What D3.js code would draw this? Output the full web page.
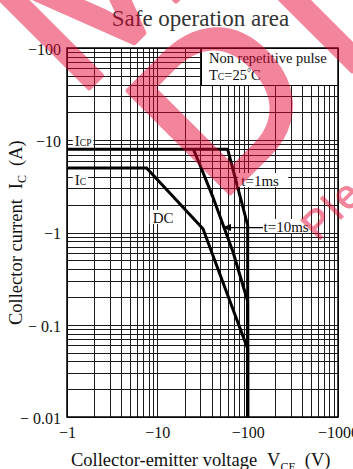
<!DOCTYPE html>
<html>
<head>
<meta charset="utf-8">
<script src="https://cdn.jsdelivr.net/npm/d3@7"></script>
<style>
  html, body { margin: 0; padding: 0; background: #fff; }
  svg { display: block; font-family: "Liberation Serif", "Times New Roman", serif; }
</style>
</head>
<body>
<svg id="chart" width="353" height="469"></svg>
<script>
// Axis ticks (magnitudes; the device is PNP so every label carries a minus sign)
const xTickValues = [1, 10, 100, 1000];
const xTickLabels = ["−1", "−10", "−100", "−1000"];
const yTickValues = [0.01, 0.1, 1, 10, 100];
const yTickLabels = ["− 0.01", "− 0.1", "−1", "−10", "−100"];

// Safe-operating-area boundaries: |VCE| in volts, |IC| in amperes
const pulse1msV = [1, 60, 100, 100];
const pulse1msI = [8, 8, 1.2, 0.01];
const pulse10msV = [25, 29, 41, 69, 100, 100];
const pulse10msI = [8, 5.7, 2.45, 0.61, 0.18, 0.01];
const dcV = [1, 7.6, 32, 100, 100];
const dcI = [5, 5, 1.1, 0.055, 0.01];

const svg = d3.select("#chart");
const plotL = 67, plotR = 338, plotT = 48, plotB = 417;

const x = d3.scaleLog().domain([1, 1000]).range([plotL, plotR]);
const y = d3.scaleLog().domain([0.01, 100]).range([plotB, plotT]);

// Full logarithmic grid: 1..9 in every decade
const steps = d3.range(1, 10);
const xGrid = [1, 10, 100].flatMap(d => steps.map(k => k * d)).concat([1000]);
const yGrid = [0.01, 0.1, 1, 10].flatMap(d => steps.map(k => +(k * d).toPrecision(3))).concat([100]);

const grid = svg.append("g");
grid.append("g")
  .attr("transform", `translate(0,${plotB})`)
  .call(d3.axisBottom(x).tickValues(xGrid).tickSize(-(plotB - plotT)).tickFormat(""));
grid.append("g")
  .attr("transform", `translate(${plotL},0)`)
  .call(d3.axisLeft(y).tickValues(yGrid).tickSize(-(plotR - plotL)).tickFormat(""));
grid.selectAll(".domain").remove();
grid.selectAll("line")
  .attr("stroke", "#1a1a1a")
  .attr("stroke-width", 1)
  .attr("shape-rendering", "crispEdges");

// Condition box in the upper-right corner
svg.append("rect")
  .attr("x", 201).attr("y", plotT).attr("width", plotR - 201).attr("height", 37)
  .attr("fill", "#fff").attr("stroke", "#000").attr("stroke-width", 1)
  .attr("shape-rendering", "crispEdges");
const cond = svg.append("g").attr("font-size", 14.5).attr("fill", "#111");
cond.append("text").attr("x", 209).attr("y", 63).text("Non repetitive pulse");
const tc = cond.append("text").attr("x", 209).attr("y", 80);
tc.append("tspan").text("T");
tc.append("tspan").attr("font-size", 9.5).text("C");
tc.append("tspan").text("=25");
tc.append("tspan").attr("font-size", 10).attr("dy", -4).text("°");
tc.append("tspan").attr("dy", 4).text("C");

// Plot frame
svg.append("rect")
  .attr("x", plotL).attr("y", plotT).attr("width", plotR - plotL).attr("height", plotB - plotT)
  .attr("fill", "none").attr("stroke", "#000").attr("stroke-width", 1.5);

// Tick labels
const yAxis = svg.append("g")
  .attr("transform", `translate(${plotL},0)`)
  .call(d3.axisLeft(y).tickValues(yTickValues).tickSize(0).tickPadding(6)
    .tickFormat((d, i) => yTickLabels[i]));
const xAxis = svg.append("g")
  .attr("transform", `translate(0,${plotB})`)
  .call(d3.axisBottom(x).tickValues(xTickValues).tickSize(0).tickPadding(10)
    .tickFormat((d, i) => xTickLabels[i]));
[xAxis, yAxis].forEach(a => {
  a.select(".domain").remove();
  a.selectAll("text")
    .attr("font-family", "'Liberation Serif','Times New Roman',serif")
    .attr("font-size", 16).attr("fill", "#111");
});
yAxis.selectAll("text").attr("dy", "0.4em");

// SOA curves
const line = d3.line().x(d => x(d[0])).y(d => y(d[1]));
const curves = svg.append("g")
  .attr("fill", "none").attr("stroke", "#000").attr("stroke-width", 3)
  .attr("stroke-linejoin", "miter");
curves.append("path").attr("d", line(d3.zip(dcV, dcI)));
curves.append("path").attr("d", line(d3.zip(pulse10msV, pulse10msI)));
curves.append("path").attr("d", line(d3.zip(pulse1msV, pulse1msI)));

// Text labels sitting on a white patch that breaks the grid
function boxedLabel(px, py, parts, pad) {
  const g = svg.append("g");
  const t = g.append("text").attr("x", px).attr("y", py)
    .attr("font-size", 15).attr("fill", "#111");
  parts(t);
  const b = t.node().getBBox();
  g.insert("rect", "text")
    .attr("x", b.x - pad[0]).attr("y", b.y - pad[1])
    .attr("width", b.width + pad[0] + pad[2]).attr("height", b.height + pad[1] + pad[3])
    .attr("fill", "#fff");
  return g;
}
boxedLabel(x(1.22), 146, t => {
  t.append("tspan").text("I");
  t.append("tspan").attr("font-size", 9.5).text("CP");
}, [2, -1, 2, -2]);
boxedLabel(x(1.22), 185, t => {
  t.append("tspan").text("I");
  t.append("tspan").attr("font-size", 9.5).text("C");
}, [2, -1, 2, -2]);
boxedLabel(x(8.9), 223, t => t.text("DC"), [3, 0, 3, -2]);
boxedLabel(x(85), 186, t => t.text("t=1ms"), [3, 0, 9, -2]);
boxedLabel(x(150), 232, t => t.text("t=10ms"), [2, 0, 2, -2]);

// Leader arrow from the 10 ms label to its curve
const arrowY = y(1.13);
svg.append("line")
  .attr("x1", x(148)).attr("x2", x(58)).attr("y1", arrowY).attr("y2", arrowY)
  .attr("stroke", "#000").attr("stroke-width", 1.2);
svg.append("path")
  .attr("d", `M${x(52)},${arrowY} l9,-3.5 l0,7 z`)
  .attr("fill", "#000");

// Titles
svg.append("text")
  .attr("x", 200.5).attr("y", 26).attr("text-anchor", "middle")
  .attr("font-size", 23).attr("fill", "#333")
  .text("Safe operation area");

const xt = svg.append("text").attr("x", 71).attr("y", 466)
  .attr("font-size", 18.5).attr("fill", "#111");
xt.append("tspan").text("Collector-emitter voltage");
xt.append("tspan").attr("dx", 10).text("V");
xt.append("tspan").attr("font-size", 12).attr("dy", 5).text("CE");
xt.append("tspan").attr("dx", 9).attr("dy", -5).text("(V)");

const yt = svg.append("text").attr("transform", "translate(22,325) rotate(-90)")
  .attr("font-size", 18.5).attr("fill", "#111");
yt.append("tspan").text("Collector current");
yt.append("tspan").attr("dx", 10).text("I");
yt.append("tspan").attr("font-size", 12).attr("dy", 4).text("C");
yt.append("tspan").attr("dx", 9).attr("dy", -4).text("(A)");

// Product-status stamp laid over the page
const stamp = svg.append("g")
  .attr("opacity", 0.48)
  .attr("fill", "rgb(230,0,50)").attr("stroke", "rgb(230,0,50)")
  .attr("stroke-linejoin", "round")
  .style("font-family", "'Liberation Sans', Arial, sans-serif");
stamp.append("text")
  .attr("transform", "translate(77,100) rotate(-45)")
  .attr("font-size", 210).attr("stroke-width", 5)
  .text("Maintenance/");
stamp.append("text")
  .attr("transform", "translate(218,205) rotate(-45)")
  .attr("font-size", 210).attr("stroke-width", 5).attr("letter-spacing", 24)
  .text("Discontinued");
stamp.append("text")
  .attr("transform", "translate(318,242) rotate(-45)")
  .attr("font-size", 40).attr("stroke-width", 1).attr("letter-spacing", 3)
  .text("Please refer to the latest product information");
</script>
</body>
</html>
